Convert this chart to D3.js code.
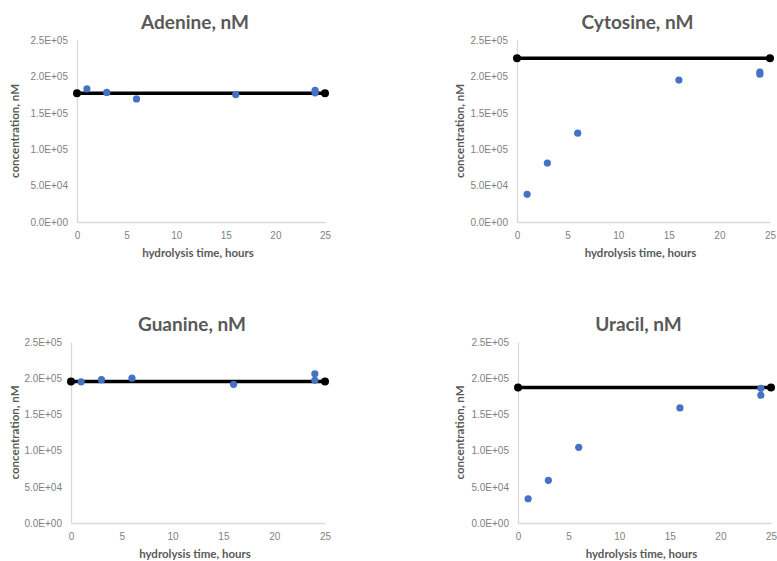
<!DOCTYPE html>
<meta charset="utf-8">
<style>
body { margin: 0; background: #fff; }
svg { font-family: Lato, "Open Sans", sans-serif; }
.axis path, .axis line { stroke: #d9d9d9; }
.axis text { fill: #7f7f7f; font-size: 10px; }
.title { fill: #595959; font-size: 19px; font-weight: bold; }
.atitle { fill: #595959; font-size: 11.5px; font-weight: bold; }
</style>
<body>
<script src="https://cdn.jsdelivr.net/npm/d3@7"></script>
<script>

// sample times (hours)
var times = [1, 3, 6, 16, 24, 24];
var refTimes = [0, 25];

var adenine  = [183000, 178000, 169000, 175000, 181000, 177500];
var cytosine = [38000, 81000, 122000, 195000, 206000, 203000];
var guanine  = [195000, 198000, 200000, 191500, 206000, 197000];
var uracil   = [33500, 59000, 104500, 159000, 186000, 176500];

var refs = [177000, 225000, 195500, 187000];
var names = ["Adenine, nM", "Cytosine, nM", "Guanine, nM", "Uracil, nM"];

var xTicks = [0, 5, 10, 15, 20, 25];
var yTicks = [0, 50000, 100000, 150000, 200000, 250000];
var yTickLabels = ["0.0E+00", "5.0E+04", "1.0E+05", "1.5E+05", "2.0E+05", "2.5E+05"];

// panel boxes: left, right, bottom, top
var boxes = [
  {l: 77, r: 325, b: 222, t: 40, yt: 15},
  {l: 517, r: 770, b: 222, t: 40, yt: 460},
  {l: 71, r: 325, b: 523, t: 342, yt: 15},
  {l: 518, r: 771, b: 523, t: 342, yt: 460}
];

var svg = d3.select("body").append("svg")
    .attr("width", 777)
    .attr("height", 561);

[adenine, cytosine, guanine, uracil].forEach(function(vals, i) {
  var bx = boxes[i];
  var x = d3.scaleLinear().domain([0, 25]).range([bx.l, bx.r]);
  var y = d3.scaleLinear().domain([0, 250000]).range([bx.b, bx.t]);
  var g = svg.append("g");

  g.append("g")
      .attr("class", "axis")
      .attr("transform", "translate(0," + bx.b + ")")
      .call(d3.axisBottom(x).tickValues(xTicks).tickSize(0).tickPadding(10))
    .call(function(a) { a.select(".domain").attr("stroke-width", 1.3); });

  g.append("g")
      .attr("class", "axis")
      .attr("transform", "translate(" + bx.l + ",0)")
      .call(d3.axisLeft(y).tickValues(yTicks).tickSize(0).tickPadding(9)
        .tickFormat(function(d, j) { return yTickLabels[j]; }))
    .call(function(a) { a.select(".domain").attr("stroke-width", 1.3); });

  g.append("text")
      .attr("class", "title")
      .attr("x", (bx.l + bx.r) / 2 - 6)
      .attr("y", bx.t - 11)
      .attr("text-anchor", "middle")
      .text(names[i]);

  g.append("text")
      .attr("class", "atitle")
      .attr("x", (bx.l + bx.r) / 2 - 3)
      .attr("y", bx.b + 35)
      .attr("text-anchor", "middle")
      .text("hydrolysis time, hours");

  g.append("text")
      .attr("class", "atitle")
      .attr("transform", "translate(" + bx.yt + "," + ((bx.b + bx.t) / 2) + ") rotate(-90)")
      .attr("dy", "0.35em")
      .attr("text-anchor", "middle")
      .text("concentration, nM");

  g.append("line")
      .attr("x1", x(refTimes[0])).attr("x2", x(refTimes[1]))
      .attr("y1", y(refs[i])).attr("y2", y(refs[i]))
      .attr("stroke", "#000")
      .attr("stroke-width", 3.5);

  g.selectAll(".ref")
      .data(refTimes)
    .enter().append("circle")
      .attr("cx", function(d) { return x(d); })
      .attr("cy", y(refs[i]))
      .attr("r", 4)
      .attr("fill", "#000");

  g.selectAll(".pt")
      .data(vals)
    .enter().append("circle")
      .attr("cx", function(d, j) { return x(times[j]); })
      .attr("cy", function(d) { return y(d); })
      .attr("r", 3.6)
      .attr("fill", "#4472c4");
});

</script>
